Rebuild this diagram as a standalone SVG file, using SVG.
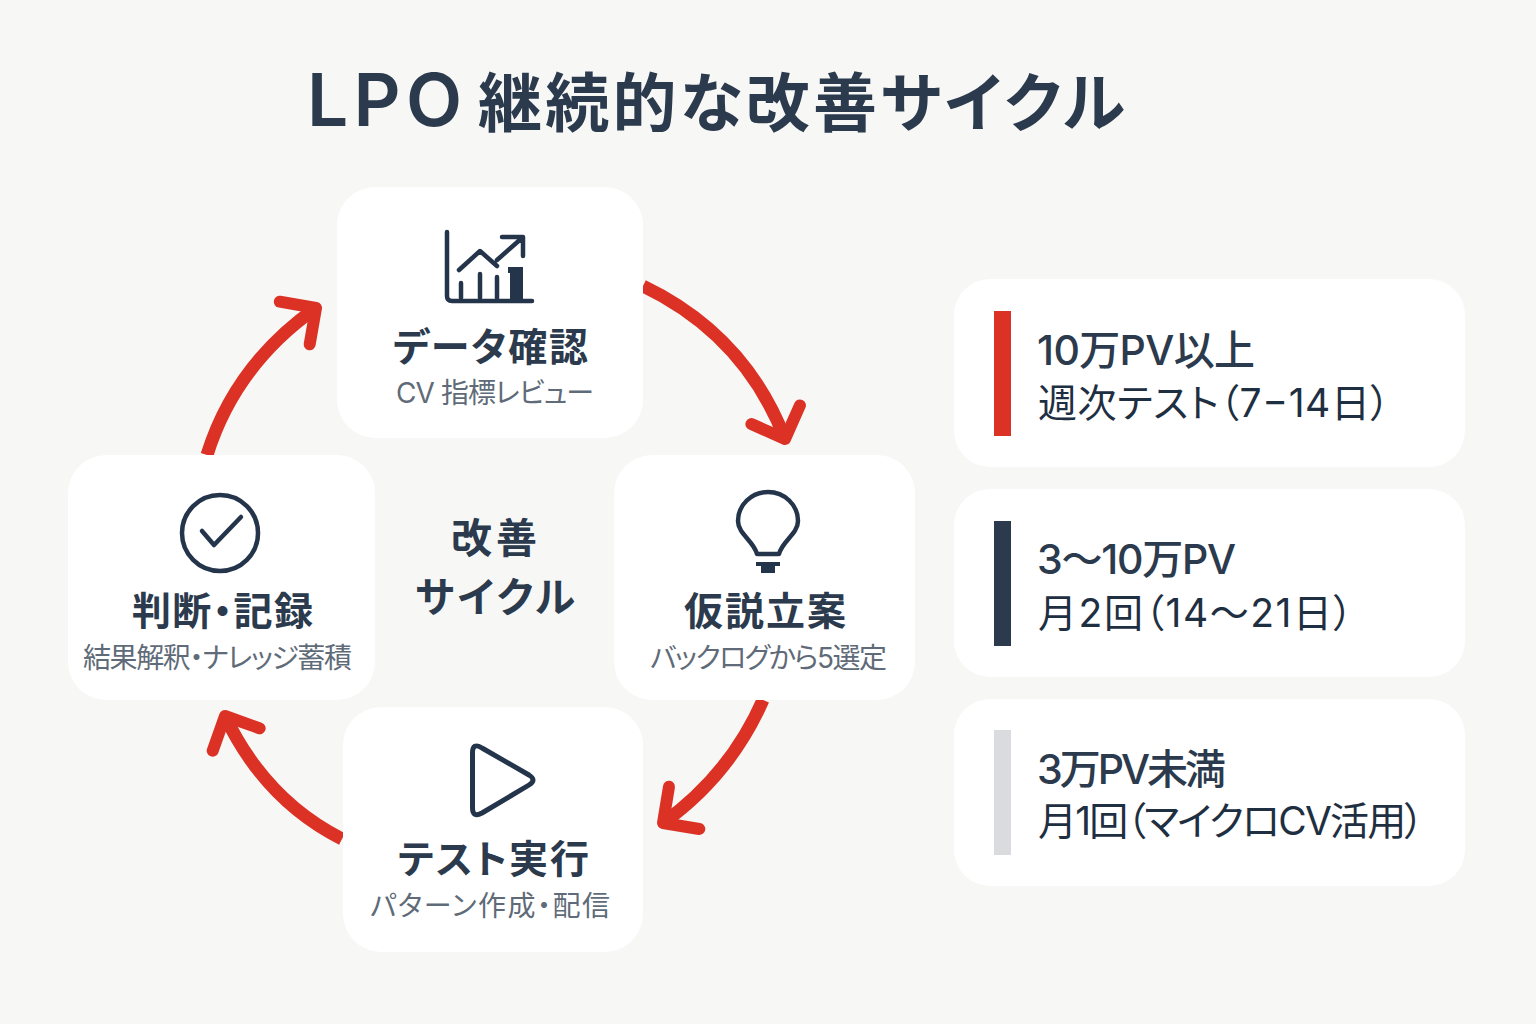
<svg xmlns="http://www.w3.org/2000/svg" width="1536" height="1024" viewBox="0 0 1536 1024">
<style>
text{font-family:"Inter","Noto Sans CJK JP","Noto Sans",sans-serif;font-feature-settings:"palt";fill:#2b3a4d}
.title{font-size:64px;font-weight:700}
.h{font-size:39px;font-weight:700}
.s{font-size:28px;font-weight:400;fill:#5f6b78}
.c{font-size:41px;font-weight:700}
.a{font-size:41px;font-weight:500}
.b{font-size:39px;font-weight:400;fill:#1f2f42}
.card{fill:#fff}
.ico{fill:none;stroke:#24344a;stroke-width:4.5;stroke-linecap:round;stroke-linejoin:round}
.icf{fill:#24344a}
.arr{fill:none;stroke:#dc3226;stroke-width:13;marker-end:url(#head)}
</style>
<defs>
<marker id="head" markerUnits="userSpaceOnUse" markerWidth="80" markerHeight="80" refX="40" refY="40" orient="auto" viewBox="0 0 80 80" overflow="visible">
<path d="M14,14 L40,40 L14,66" fill="none" stroke="#dc3226" stroke-width="12" stroke-linecap="round" stroke-linejoin="round"/>
</marker>
</defs>
<rect width="1536" height="1024" fill="#f7f7f6"/>
<text id="title" class="title" y="126"><tspan x="307" font-size="73" font-weight="600" textLength="155">LPO</tspan> <tspan x="478" textLength="647">継続的な改善サイクル</tspan></text>
<g id="connectors">
<path class="arr" d="M643,286 Q745,335 785,439"/>
<path class="arr" d="M763,700 Q730,775 663,823"/>
<path class="arr" d="M342,839 Q265,800 225,716"/>
<path class="arr" d="M207,455 Q235,365 316,308"/>
</g>
<g id="node-data">
<rect class="card" x="337" y="187" width="306" height="251" rx="38"/>
<path class="ico" d="M447,232 V296 Q447,301 452,301 H532"/>
<path class="ico" d="M461,298 V283 M480,298 V274 M497,298 V277 M459,270 L480,251 L497,266 M497,260 L522,238 M502,237 H523 V256"/>
<path class="icf" d="M508,267 H523 V300 H510 V273 H508 Z"/>
<text class="h" x="393" y="361" textLength="195">データ確認</text>
<text class="s" x="396" y="403" textLength="198">CV 指標レビュー</text>
</g>
<g id="node-hypothesis">
<rect class="card" x="614" y="455" width="301" height="245" rx="38"/>
<path class="ico" d="M757,554 C754,541 738,534 738,521 A30,29 0 1 1 798,521 C798,534 782,541 779,554 Z"/>
<path class="icf" d="M756,562 H780 V566 H775 V573 H761 V566 H756 Z"/>
<text class="h" x="684" y="625" textLength="162">仮説立案</text>
<text class="s" x="650" y="668" textLength="237">バックログから5選定</text>
</g>
<g id="node-test">
<rect class="card" x="343" y="707" width="300" height="245" rx="38"/>
<path class="ico" style="stroke-width:5" d="M472.5,753 Q472.5,742 482,748 L529,775 Q537,780 529,785 L482,813 Q472.5,818 472.5,808 Z"/>
<text class="h" x="398" y="873" textLength="191">テスト実行</text>
<text class="s" x="370" y="916" textLength="240">パターン作成・配信</text>
</g>
<g id="node-decision">
<rect class="card" x="68" y="455" width="307" height="245" rx="38"/>
<circle class="ico" cx="220" cy="533" r="38"/>
<path class="ico" d="M202,531 L214,545 L241,517"/>
<text class="h" x="132" y="625" textLength="181">判断・記録</text>
<text class="s" x="83" y="668" textLength="269">結果解釈・ナレッジ蓄積</text>
</g>
<g id="node-center">
<text class="c" x="451" y="553" textLength="86">改善</text>
<text class="c" x="415" y="612" textLength="160">サイクル</text>
</g>
<g id="panel-high">
<rect class="card" x="954" y="279" width="511" height="188" rx="36"/>
<rect x="994" y="311" width="17" height="125" fill="#dc3226"/>
<text class="a" x="1037" y="365" textLength="218">10万PV以上</text>
<text class="b" x="1038" y="417" textLength="352">週次テスト（7−14日）</text>
</g>
<g id="panel-mid">
<rect class="card" x="954" y="489" width="511" height="188" rx="36"/>
<rect x="994" y="521" width="17" height="125" fill="#2b3a4d"/>
<text class="a" x="1037" y="574" textLength="199">3〜10万PV</text>
<text class="b" x="1038" y="627" textLength="315">月2回（14〜21日）</text>
</g>
<g id="panel-low">
<rect class="card" x="954" y="699" width="511" height="187" rx="36"/>
<rect x="994" y="730" width="17" height="125" fill="#d9dbde"/>
<text class="a" x="1037" y="784" textLength="189">3万PV未満</text>
<text class="b" x="1038" y="835" textLength="386">月1回（マイクロCV活用）</text>
</g>
</svg>
